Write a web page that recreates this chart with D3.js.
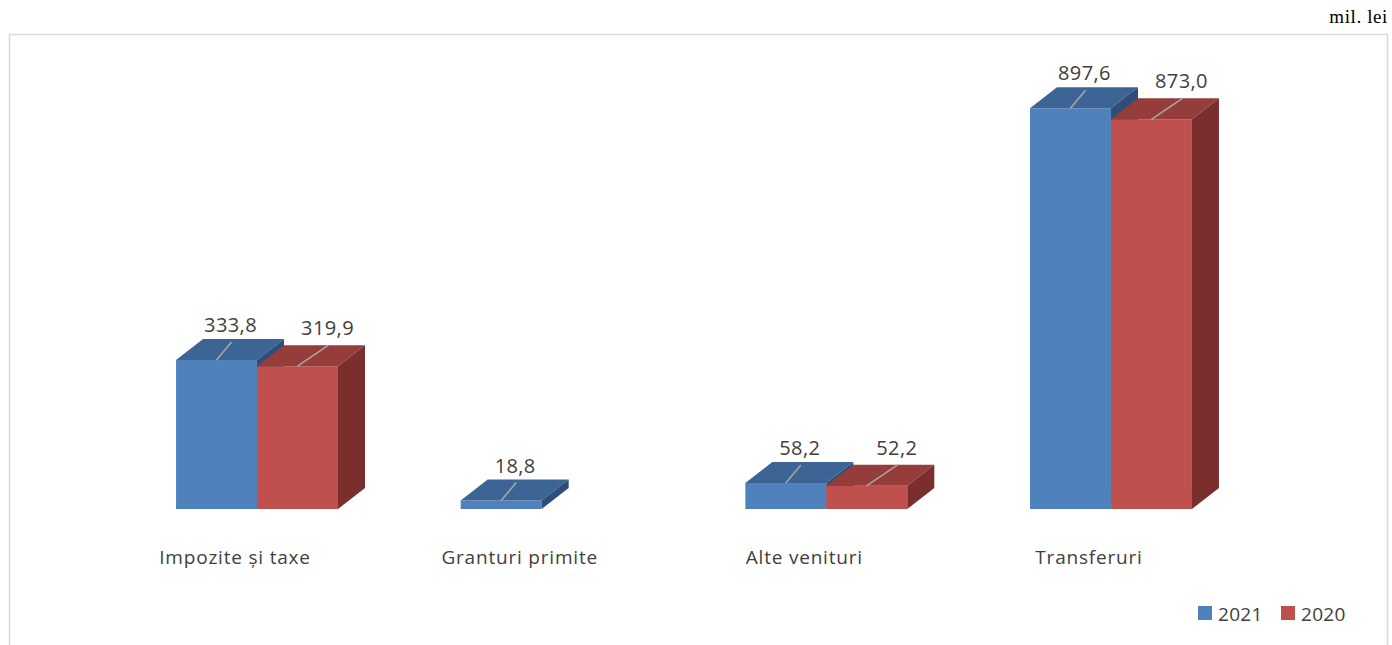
<!DOCTYPE html>
<html><head><meta charset="utf-8">
<script src="https://cdn.jsdelivr.net/npm/d3@7/dist/d3.min.js"></script>
<style>body{margin:0;background:#fff}svg{display:block}</style>
</head><body>
<svg id="c" width="1392" height="645"></svg>
<script>
const categories = ["Impozite și taxe", "Granturi primite", "Alte venituri", "Transferuri"];
const seriesNames = ["2021", "2020"];
const values2021 = [333.8, 18.8, 58.2, 897.6];
const values2020 = [319.9, null, 52.2, 873.0];
const valueLabels2021 = ["333,8", "18,8", "58,2", "897,6"];
const valueLabels2020 = ["319,9", "", "52,2", "873,0"];
const unitLabel = "mil. lei";

const svg = d3.select("#c");
const font = "'Open Sans', sans-serif";
const colors = {
  "2021": {front: "#4F81BD", top: "#3C6595", side: "#2F4E77"},
  "2020": {front: "#C0504D", top: "#953D3B", side: "#7A2E2D"}
};
const DX = 27, DY = -21;

// frame
svg.append("rect").attr("x", 9.5).attr("y", 34.5).attr("width", 1378).attr("height", 640)
  .attr("fill", "none").attr("stroke", "#d9d9d9").attr("stroke-width", 1.5);
svg.append("text").attr("x", 1388).attr("y", 23).attr("text-anchor", "end")
  .attr("font-family", "'Liberation Serif', 'Times New Roman', serif").attr("font-size", 19)
  .attr("letter-spacing", 0.6).attr("fill", "#000").text(unitLabel);

const x0 = d3.scaleBand().domain(categories).range([114.7, 1253.3])
  .paddingInner(0.431).paddingOuter(0.2155);
const x1 = d3.scaleBand().domain(seriesNames).range([0, x0.bandwidth()]);
const y = d3.scaleLinear().domain([0, 1000]).range([509, 509 - 446.4]);

const data = [];
categories.forEach((c, i) => {
  [[values2021, valueLabels2021, "2021"], [values2020, valueLabels2020, "2020"]].forEach(([vals, labs, s]) => {
    if (vals[i] != null) data.push({cat: c, s, v: vals[i], label: labs[i]});
  });
});

const g = svg.append("g");
data.forEach(d => {
  const xl = x0(d.cat) + x1(d.s), xr = xl + x1.bandwidth();
  const yt = y(d.v), yb = y(0);
  const c = colors[d.s];
  const pts = a => a.map(p => p.join(",")).join(" ");
  g.append("polygon").attr("points", pts([[xl, yt], [xr, yt], [xr, yb], [xl, yb]])).attr("fill", c.front);
  g.append("polygon").attr("points", pts([[xl, yt], [xr, yt], [xr + DX, yt + DY], [xl + DX, yt + DY]])).attr("fill", c.top);
  g.append("polygon").attr("points", pts([[xr, yt], [xr + DX, yt + DY], [xr + DX, yb + DY], [xr, yb]])).attr("fill", c.side);
});

// labels + leader lines
data.forEach(d => {
  const xl = x0(d.cat) + x1(d.s), fc = xl + x1.bandwidth() / 2;
  const yt = y(d.v);
  const lx = fc + (d.s === "2021" ? 14 : 30);
  const ly = yt - (d.s === "2021" ? 28 : 31);
  svg.append("line").attr("x1", lx + 1).attr("y1", ly + 10).attr("x2", fc).attr("y2", yt)
    .attr("stroke", "#a6a6a6").attr("stroke-width", 1.6);
  svg.append("text").attr("x", lx).attr("y", ly).attr("text-anchor", "middle")
    .attr("font-family", font).attr("font-size", 20).attr("letter-spacing", 0.4)
    .attr("fill", "#404040").text(d.label);
});

// category labels
svg.append("g").selectAll("text").data(categories).join("text")
  .attr("x", d => x0(d) + x0.bandwidth() / 2 - 22).attr("y", 564).attr("text-anchor", "middle")
  .attr("font-family", font).attr("font-size", 19).attr("letter-spacing", 0.8)
  .attr("fill", "#404040").text(d => d);

// legend
const lg = svg.append("g");
const legendX = [1198, 1281];
seriesNames.forEach((s, i) => {
  lg.append("rect").attr("x", legendX[i]).attr("y", 606).attr("width", 14).attr("height", 14).attr("fill", colors[s].front);
  lg.append("text").attr("x", legendX[i] + 20).attr("y", 621).attr("font-family", font).attr("font-size", 19)
    .attr("letter-spacing", 0.3).attr("fill", "#404040").text(s);
});
</script>
</body></html>
